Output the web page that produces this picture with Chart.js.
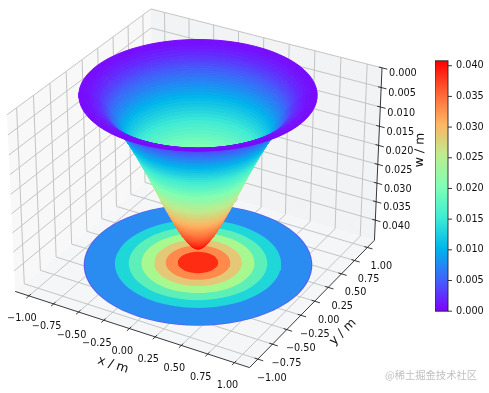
<!DOCTYPE html>
<html>
<head>
<meta charset="utf-8">
<title>w / m</title>
<script src="https://cdn.jsdelivr.net/npm/chart.js@4"></script>
<style>
  html, body { margin: 0; padding: 0; background: #fff; }
  #wrap { position: relative; width: 489px; height: 393px; overflow: hidden; }
  canvas { position: absolute; }
</style>
</head>
<body>
<div id="wrap">
  <canvas id="chart3d" width="489" height="393" style="left:0;top:0"></canvas>
  <canvas id="colorbar" width="54" height="278" style="left:435px;top:47px"></canvas>
</div>
<script>
// radial profile
const radii = [0, 0.0125, 0.025, 0.0375, 0.05, 0.0625, 0.075, 0.0875, 0.1, 0.1125, 0.125, 0.1375, 0.15, 0.1625, 0.175, 0.1875, 0.2, 0.2125, 0.225, 0.2375, 0.25, 0.2625, 0.275, 0.2875, 0.3, 0.3125, 0.325, 0.3375, 0.35, 0.3625, 0.375, 0.3875, 0.4, 0.4125, 0.425, 0.4375, 0.45, 0.4625, 0.475, 0.4875, 0.5, 0.5125, 0.525, 0.5375, 0.55, 0.5625, 0.575, 0.5875, 0.6, 0.6125, 0.625, 0.6375, 0.65, 0.6625, 0.675, 0.6875, 0.7, 0.7125, 0.725, 0.7375, 0.75, 0.7625, 0.775, 0.7875, 0.8, 0.8125, 0.825, 0.85, 0.875, 0.9, 0.925, 0.95, 0.975, 0.99];
const deflection = [0.0408, 0.0407, 0.0406, 0.0404, 0.0401, 0.0398, 0.0394, 0.039, 0.0385, 0.038, 0.0375, 0.037, 0.0364, 0.0358, 0.0352, 0.0346, 0.0339, 0.0333, 0.0326, 0.0319, 0.0312, 0.0305, 0.0298, 0.0291, 0.0283, 0.0276, 0.0268, 0.0261, 0.0253, 0.0246, 0.0238, 0.0231, 0.0223, 0.0216, 0.0208, 0.0201, 0.0193, 0.0186, 0.0179, 0.0172, 0.0165, 0.0158, 0.0151, 0.0144, 0.0137, 0.0131, 0.0124, 0.0118, 0.0111, 0.0105, 0.0099, 0.0093, 0.0087, 0.0082, 0.0076, 0.0071, 0.0065, 0.0061, 0.0056, 0.0051, 0.0046, 0.0042, 0.0038, 0.0034, 0.003, 0.0027, 0.0024, 0.0019, 0.0015, 0.0011, 0.0009, 0.0007, 0.0006, 0.0005];
const anglesDeg = [30, 35, 40, 45, 50, 55, 60, 65, 70, 75, 80, 85, 90, 95, 100, 105, 110, 115, 120, 125, 130, 135, 140, 145, 150, 155, 160, 165, 170, 175, 180, 185, 190, 195, 200, 205, 210, 215, 220, 225, 230, 235, 240, 245, 250, 255, 260, 265, 270, 275, 280, 285, 290, 295, 300, 305, 310, 315, 320, 325, 330, 335, 340, 345, 350, 355, 360, 365, 370, 375, 380, 385, 390];

// filled contour rings on the floor, outer to inner
const contourRadii = [0.99, 0.98, 0.72, 0.6, 0.49, 0.38, 0.28, 0.175];
const contourColors = ["#5a5cf0", "#2a8cf0", "#1fd6d8", "#5cf0b8", "#a8f890", "#e4c878", "#ff8a4c", "#ff2c14"];

const xTicks = [-1, -0.75, -0.5, -0.25, 0, 0.25, 0.5, 0.75, 1];
const yTicks = [-1, -0.75, -0.5, -0.25, 0, 0.25, 0.5, 0.75, 1];
const zTicks = [0, 0.005, 0.01, 0.015, 0.02, 0.025, 0.03, 0.035, 0.04];
const barTicks = [0, 0.005, 0.01, 0.015, 0.02, 0.025, 0.03, 0.035, 0.04];
const barMax = 0.0408;

const rainbow = [[128, 0, 255], [64, 98, 250], [0, 180, 236], [64, 236, 212], [128, 255, 180], [191, 236, 142], [255, 180, 98], [255, 98, 50], [255, 0, 0]];

// axes box
const xyLim = 1.14;
const zTop = 0;
const zBottom = 0.0455;
const floorZ = 0.0447;

// camera, same as the default 3d view (elev 30, azim -60, dist 10)
const scalePx = 235, centerX = 198, centerY = 180;
const eye = [0.433, -0.75, 0.5], right = [0.866, 0.5, 0], up = [-0.25, 0.433, 0.866];

function project(x, y, z) {
  const X = x / xyLim * 0.5714;
  const Y = y / xyLim * 0.5714;
  const Z = (0.5 - (z - zTop) / (zBottom - zTop)) * 0.8571;
  const dot = (v) => v[0] * X + v[1] * Y + v[2] * Z;
  const k = 10 / (10 - dot(eye));
  return { x: centerX + dot(right) * k * scalePx, y: centerY - dot(up) * k * scalePx };
}

function colorAt(v) {
  const t = Math.min(1, Math.max(0, v / barMax)) * (rainbow.length - 1);
  const i = Math.min(rainbow.length - 2, Math.floor(t));
  const c = rainbow[i].map((a, k) => Math.round(a + (rainbow[i + 1][k] - a) * (t - i)));
  return `rgb(${c[0]},${c[1]},${c[2]})`;
}

const rad = (d) => (d * Math.PI) / 180;
const gap = { x: NaN, y: NaN };

function lines(segments, color, width) {
  const data = [];
  segments.forEach((s) => {
    data.push(project(...s[0]), project(...s[1]), gap);
  });
  return { data, borderColor: color, borderWidth: width, showLine: true, pointRadius: 0, fill: false };
}

function shape(points, color, border, width) {
  return {
    data: points,
    backgroundColor: color,
    borderColor: border || color,
    borderWidth: width || 0,
    showLine: true,
    pointRadius: 0,
    fill: "shape",
  };
}

function band(i, angles) {
  const outer = angles.map((a) => project(radii[i + 1] * Math.cos(rad(a)), radii[i + 1] * Math.sin(rad(a)), deflection[i + 1]));
  const inner = angles.map((a) => project(radii[i] * Math.cos(rad(a)), radii[i] * Math.sin(rad(a)), deflection[i])).reverse();
  const pts = outer.concat(inner);
  pts.push(pts[0]);
  return shape(pts, colorAt((deflection[i] + deflection[i + 1]) / 2), null, 1);
}

const L = xyLim;
const painted = [];

// panes
const corner = (x, y, z) => project(x, y, z);
painted.push(shape([corner(-L, -L, zBottom), corner(-L, -L, zTop), corner(-L, L, zTop), corner(-L, L, zBottom), corner(-L, -L, zBottom)], "#f8f8f8"));
painted.push(shape([corner(-L, L, zBottom), corner(-L, L, zTop), corner(L, L, zTop), corner(L, L, zBottom), corner(-L, L, zBottom)], "#f2f3f4"));
painted.push(shape([corner(-L, -L, zBottom), corner(L, -L, zBottom), corner(L, L, zBottom), corner(-L, L, zBottom), corner(-L, -L, zBottom)], "#f5f6f7"));

// grid
const grid = [];
xTicks.forEach((t) => {
  grid.push([[t, -L, zBottom], [t, L, zBottom]], [[t, L, zBottom], [t, L, zTop]]);
});
yTicks.forEach((t) => {
  grid.push([[-L, t, zBottom], [L, t, zBottom]], [[-L, t, zBottom], [-L, t, zTop]]);
});
zTicks.forEach((t) => {
  grid.push([[-L, -L, t], [-L, L, t]], [[-L, L, t], [L, L, t]]);
});
painted.push(lines(grid, "#c4c4c4", 1));

// axis lines and ticks
const axisSegs = [
  [[-L, -L, zBottom], [L, -L, zBottom]],
  [[L, -L, zBottom], [L, L, zBottom]],
  [[L, L, zBottom], [L, L, zTop]],
];
xTicks.forEach((t) => axisSegs.push([[t, -L + 0.03, zBottom], [t, -L - 0.04, zBottom]]));
yTicks.forEach((t) => axisSegs.push([[L - 0.03, t, zBottom], [L + 0.05, t, zBottom]]));
zTicks.forEach((t) => axisSegs.push([[L - 0.03, L, t], [L + 0.05, L, t]]));
painted.push(lines(axisSegs, "#222222", 0.9));

// contour on the floor
contourRadii.forEach((r, i) => {
  const pts = anglesDeg.map((a) => project(r * Math.cos(rad(a)), r * Math.sin(rad(a)), floorZ));
  painted.push(shape(pts, contourColors[i]));
});

// surface: far half from rim to tip, then near half from tip to rim
const backAngles = anglesDeg.slice(0, 37);
const frontAngles = anglesDeg.slice(36);
for (let i = radii.length - 2; i >= 0; i--) painted.push(band(i, backAngles));
for (let i = 0; i < radii.length - 1; i++) painted.push(band(i, frontAngles));

// first dataset is drawn last
const datasets = painted.reverse();

const tickFont = '9.7px "DejaVu Sans"';
const labelFont = '12.5px "DejaVu Sans"';
const fmt2 = (v) => v.toFixed(2).replace("-", "\u2212");

const textItems = [];
xTicks.forEach((t) => {
  const p = project(t, -L, zBottom);
  textItems.push({ text: fmt2(t), x: p.x - 7, y: p.y + 23, font: tickFont, align: "center" });
});
yTicks.forEach((t) => {
  const p = project(L, t, zBottom);
  textItems.push({ text: fmt2(t), x: p.x + 14, y: p.y + 19, font: tickFont, align: "center" });
});
zTicks.forEach((t) => {
  const p = project(L, L, t);
  textItems.push({ text: t.toFixed(3), x: p.x + 7, y: p.y + 6, font: tickFont, align: "left" });
});
textItems.push({ text: "x / m", x: 113, y: 365, font: labelFont, align: "center", rot: 18 });
textItems.push({ text: "y / m", x: 343, y: 332, font: labelFont, align: "center", rot: -45 });
textItems.push({ text: "w / m", x: 420, y: 150, font: labelFont, align: "center", rot: -88 });
textItems.push({ text: "@稀土掘金技术社区", x: 431, y: 375, font: '10.3px "Noto Sans CJK SC"', align: "center", color: "#c0c0c0" });

const axisText = {
  id: "axisText",
  afterDatasetsDraw(chart) {
    const c = chart.ctx;
    const sx = chart.scales.x, sy = chart.scales.y;
    textItems.forEach((t) => {
      c.save();
      c.translate(sx.getPixelForValue(t.x), sy.getPixelForValue(t.y));
      c.rotate(rad(t.rot || 0));
      c.font = t.font;
      c.fillStyle = t.color || "#111111";
      c.textAlign = t.align;
      c.textBaseline = "middle";
      c.fillText(t.text, 0, 0);
      c.restore();
    });
  },
};

new Chart(document.getElementById("chart3d"), {
  type: "scatter",
  data: { datasets },
  options: {
    responsive: false,
    animation: false,
    events: [],
    layout: { padding: 0 },
    plugins: { legend: { display: false }, tooltip: { enabled: false } },
    scales: {
      x: { type: "linear", min: 0, max: 489, display: false },
      y: { type: "linear", min: 0, max: 393, reverse: true, display: false },
    },
  },
  plugins: [axisText],
});

const barOutline = {
  id: "barOutline",
  afterDraw(chart) {
    const a = chart.chartArea, c = chart.ctx;
    c.save();
    c.strokeStyle = "#222222";
    c.lineWidth = 0.9;
    c.strokeRect(a.left, a.top, a.right - a.left, a.bottom - a.top);
    c.restore();
  },
};

new Chart(document.getElementById("colorbar"), {
  type: "bar",
  data: {
    labels: ["w"],
    datasets: [
      {
        data: [barMax],
        barPercentage: 1,
        categoryPercentage: 1,
        backgroundColor: (ctx) => {
          const a = ctx.chart.chartArea;
          if (!a) return "#000";
          const g = ctx.chart.ctx.createLinearGradient(0, a.bottom, 0, a.top);
          rainbow.forEach((c, i) => g.addColorStop(i / (rainbow.length - 1), `rgb(${c[0]},${c[1]},${c[2]})`));
          return g;
        },
      },
    ],
  },
  options: {
    responsive: false,
    animation: false,
    events: [],
    layout: { padding: { top: 9, bottom: 3, left: 0, right: 0 } },
    plugins: { legend: { display: false }, tooltip: { enabled: false } },
    scales: {
      x: { display: false },
      y: {
        position: "right",
        min: 0,
        max: barMax,
        afterBuildTicks: (s) => { s.ticks = barTicks.map((v) => ({ value: v })); },
        afterFit: (s) => { s.width = 41; },
        grid: { display: false, drawTicks: false },
        border: { display: false },
        ticks: {
          padding: 8,
          color: "#111111",
          font: { family: "DejaVu Sans", size: 9.7 },
          callback: (v) => v.toFixed(3),
        },
      },
    },
  },
  plugins: [
    barOutline,
    {
      id: "barTickMarks",
      afterDraw(chart) {
        const c = chart.ctx, s = chart.scales.y, a = chart.chartArea;
        c.save();
        c.strokeStyle = "#222222";
        c.lineWidth = 0.9;
        barTicks.forEach((v) => {
          const y = s.getPixelForValue(v);
          c.beginPath();
          c.moveTo(a.right, y);
          c.lineTo(a.right + 4, y);
          c.stroke();
        });
        c.restore();
      },
    },
  ],
});
</script>
</body>
</html>
